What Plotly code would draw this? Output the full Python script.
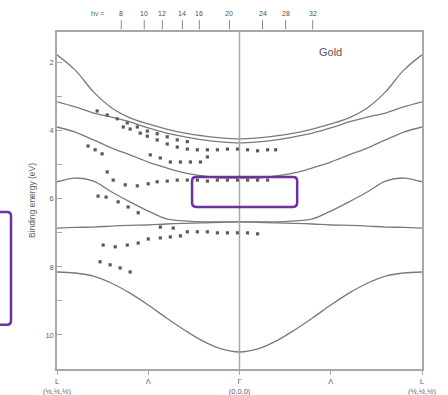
import plotly.graph_objects as go

# Wave vector along L - Gamma - L (units of the Gamma-L distance) and binding energies (eV)
k_grid = [-1.0, -0.9, -0.8, -0.7, -0.6, -0.5, -0.4, -0.3, -0.2, -0.1, 0.0,
          0.1, 0.2, 0.3, 0.4, 0.5, 0.6, 0.7, 0.8, 0.9, 1.0]

band_1 = [1.77, 2.22, 2.86, 3.33, 3.62, 3.80, 3.95, 4.07, 4.15, 4.21, 4.24,
          4.21, 4.15, 4.07, 3.95, 3.80, 3.62, 3.33, 2.86, 2.22, 1.77]
band_2 = [3.15, 3.30, 3.48, 3.60, 3.74, 3.92, 4.07, 4.18, 4.27, 4.33, 4.36,
          4.33, 4.27, 4.18, 4.07, 3.92, 3.74, 3.60, 3.48, 3.30, 3.15]
band_3 = [3.89, 4.04, 4.27, 4.51, 4.71, 4.92, 5.09, 5.24, 5.33, 5.39, 5.39,
          5.39, 5.33, 5.24, 5.09, 4.92, 4.71, 4.51, 4.27, 4.04, 3.89]
band_4 = [5.50, 5.39, 5.48, 5.80, 6.09, 6.36, 6.59, 6.65, 6.68, 6.68, 6.68,
          6.68, 6.68, 6.65, 6.59, 6.36, 6.09, 5.80, 5.48, 5.39, 5.50]
band_5 = [6.86, 6.84, 6.83, 6.80, 6.78, 6.77, 6.74, 6.72, 6.71, 6.69, 6.68,
          6.69, 6.71, 6.72, 6.74, 6.77, 6.78, 6.80, 6.83, 6.84, 6.86]
band_6 = [8.15, 8.18, 8.27, 8.48, 8.77, 9.12, 9.50, 9.86, 10.18, 10.41, 10.50,
          10.41, 10.18, 9.86, 9.50, 9.12, 8.77, 8.48, 8.27, 8.18, 8.15]
bands = [band_1, band_2, band_3, band_4, band_5, band_6]

# Measured peak positions (k, E)
exp_1_k = [-0.780, -0.725, -0.670, -0.615, -0.560, -0.505, -0.451, -0.396, -0.341, -0.286]
exp_1_e = [3.42, 3.54, 3.65, 3.77, 3.89, 4.01, 4.09, 4.18, 4.27, 4.32]
exp_2_k = [-0.637, -0.599, -0.544, -0.505, -0.451, -0.396, -0.341, -0.286, -0.231,
           -0.176, -0.121, -0.066, -0.011, 0.044, 0.099, 0.154, 0.198]
exp_2_e = [3.89, 3.95, 4.07, 4.16, 4.27, 4.39, 4.48, 4.54, 4.56,
           4.56, 4.56, 4.54, 4.54, 4.56, 4.59, 4.56, 4.56]
exp_3_k = [-0.489, -0.434, -0.379, -0.324, -0.269, -0.214, -0.176]
exp_3_e = [4.71, 4.80, 4.92, 4.92, 4.92, 4.92, 4.77]
exp_4_k = [-0.830, -0.791, -0.753]
exp_4_e = [4.45, 4.56, 4.68]
exp_5_k = [-0.725, -0.692, -0.626, -0.560, -0.500, -0.451, -0.396, -0.341, -0.286,
           -0.231, -0.176, -0.121, -0.066, -0.011, 0.044, 0.099, 0.154]
exp_5_e = [5.21, 5.45, 5.59, 5.62, 5.56, 5.50, 5.48, 5.45, 5.45,
           5.45, 5.48, 5.45, 5.45, 5.45, 5.45, 5.45, 5.45]
exp_6_k = [-0.775, -0.731, -0.665, -0.610, -0.555]
exp_6_e = [5.92, 5.95, 6.09, 6.24, 6.41]
exp_7_k = [-0.434, -0.363, -0.286, -0.231, -0.176, -0.121, -0.066, -0.011, 0.044, 0.099]
exp_7_e = [6.83, 6.86, 6.97, 6.97, 6.97, 7.00, 7.00, 7.00, 7.00, 7.03]
exp_8_k = [-0.747, -0.681, -0.615, -0.555, -0.500, -0.434, -0.379, -0.324]
exp_8_e = [7.36, 7.41, 7.36, 7.30, 7.18, 7.15, 7.12, 7.09]
exp_9_k = [-0.764, -0.709, -0.654, -0.599]
exp_9_e = [7.85, 7.94, 8.03, 8.15]
experiment = [(exp_1_k, exp_1_e), (exp_2_k, exp_2_e), (exp_3_k, exp_3_e),
              (exp_4_k, exp_4_e), (exp_5_k, exp_5_e), (exp_6_k, exp_6_e),
              (exp_7_k, exp_7_e), (exp_8_k, exp_8_e), (exp_9_k, exp_9_e)]

# Photon energies and the k position they probe
hv_values = ["8", "10", "12", "14", "16", "20", "24", "28", "32"]
hv_k = [-0.648, -0.522, -0.423, -0.313, -0.220, -0.055, 0.126, 0.253, 0.401]

x_ticks = [-1.0, -0.5, 0.0, 0.5, 1.0]
x_labels = ["L<br>(½,½,½)", "Λ", "Γ<br>(0,0,0)", "Λ", "L<br>(½,½,½)"]
y_ticks = [2, 4, 6, 8, 10]
y_labels = ["2", "4", "6", "8", "10"]

LINE = "#7a7a7a"
DOT = "#5a5a5a"
TEXT = "#606060"
FRAME = "#a8a8a8"
PURPLE = "#7030a0"

fig = go.Figure()

for band in bands:
    fig.add_trace(go.Scatter(x=k_grid, y=band, mode="lines",
                             line=dict(color=LINE, width=1.3, shape="spline", smoothing=1.0),
                             hoverinfo="skip", showlegend=False))

for ks, es in experiment:
    fig.add_trace(go.Scatter(x=ks, y=es, mode="markers",
                             marker=dict(symbol="square", size=3.2, color=DOT, line=dict(width=0)),
                             hoverinfo="skip", showlegend=False))

# Gamma point vertical line
fig.add_shape(type="line", xref="x", yref="paper", x0=0, x1=0, y0=0, y1=1,
              line=dict(color=FRAME, width=1.5))

# Photon energy scale along the top
fig.add_annotation(x=-0.78, y=1.07, xref="x", yref="paper", text="hν =",
                   showarrow=False, font=dict(size=7, color=TEXT))
for val, kk in zip(hv_values, hv_k):
    fig.add_annotation(x=kk, y=1.07, xref="x", yref="paper", text=val,
                       showarrow=False, font=dict(size=7, color="#505050"))
    fig.add_shape(type="line", xref="x", yref="paper", x0=kk, x1=kk, y0=1.008, y1=1.035,
                  line=dict(color="#8a8a8a", width=1))

fig.add_annotation(x=0.5, y=0.965, xref="x", yref="paper", text="Gold",
                   showarrow=False, font=dict(size=11, color="#555555"))


def rounded_box(x0, x1, y0, y1, rx, ry):
    return (f"M {x0+rx},{y0} L {x1-rx},{y0} Q {x1},{y0} {x1},{y0+ry} "
            f"L {x1},{y1-ry} Q {x1},{y1} {x1-rx},{y1} L {x0+rx},{y1} "
            f"Q {x0},{y1} {x0},{y1-ry} L {x0},{y0+ry} Q {x0},{y0} {x0+rx},{y0} Z")


# Highlight boxes
fig.add_shape(type="path", xref="paper", yref="paper",
              path=rounded_box(0.370, 0.658, 0.481, 0.570, 0.011, 0.012),
              line=dict(color=PURPLE, width=2.5))
fig.add_shape(type="path", xref="paper", yref="paper",
              path=("M -0.20,0.466 L -0.137,0.466 Q -0.126,0.466 -0.126,0.454 "
                    "L -0.126,0.143 Q -0.126,0.131 -0.137,0.131 L -0.20,0.131"),
              line=dict(color=PURPLE, width=2.5))

fig.update_xaxes(range=[-1, 1], tickvals=x_ticks, ticktext=x_labels,
                 showline=True, mirror=True, linecolor=FRAME, linewidth=1.5,
                 showgrid=False, zeroline=False, ticks="outside", ticklen=4,
                 tickcolor=FRAME, tickfont=dict(size=7.5, color=TEXT),
                 automargin=False)
fig.update_yaxes(range=[11.0, 1.1], tickvals=y_ticks, ticktext=y_labels,
                 showline=True, mirror=True, linecolor=FRAME, linewidth=1.5,
                 showgrid=False, zeroline=False, ticks="inside", ticklen=5,
                 tickcolor=FRAME, tickfont=dict(size=7.5, color=TEXT),
                 minor=dict(dtick=1, tick0=1, ticks="inside", ticklen=5, tickcolor=FRAME),
                 title=dict(text="Binding energy (eV)", font=dict(size=8.5, color=TEXT),
                            standoff=8),
                 automargin=False)

fig.update_layout(width=448, height=395, autosize=False,
                  margin=dict(l=57, r=26, t=32, b=26),
                  paper_bgcolor="white", plot_bgcolor="white",
                  font=dict(family="Liberation Sans, Arial, sans-serif"))

fig.write_html("out.html")
